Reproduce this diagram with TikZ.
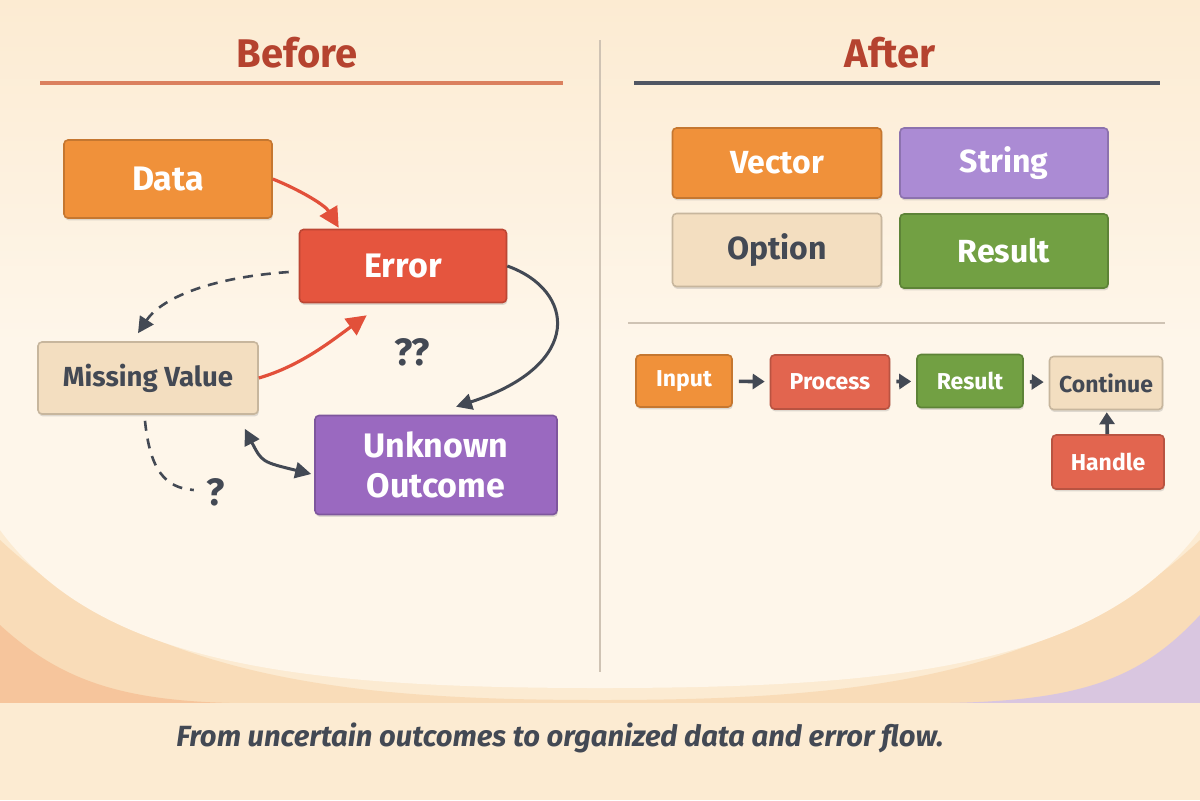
\documentclass[tikz,border=0pt]{standalone}
\usepackage{fontspec}
\setmainfont{Fira Sans}
\usetikzlibrary{arrows.meta,calc,shadows}

\definecolor{bgPeach}{HTML}{FCEBD2}
\definecolor{bgCream}{HTML}{FEF6EA}
\definecolor{bgBand}{HTML}{F9DCB8}
\definecolor{bgOrange}{HTML}{F6C59C}
\definecolor{bgLilac}{HTML}{D9C6E0}
\definecolor{cOrange}{HTML}{F0913A}
\definecolor{cRed}{HTML}{E5553E}
\definecolor{cFlowRed}{HTML}{E2654F}
\definecolor{cBeige}{HTML}{F3DEC0}
\definecolor{cPurple}{HTML}{9A69C0}
\definecolor{cLilac}{HTML}{AB8BD4}
\definecolor{cGreen}{HTML}{72A043}
\definecolor{cDark}{HTML}{434954}
\definecolor{cTitle}{HTML}{B5432F}
\definecolor{cLineRed}{HTML}{DB805E}
\definecolor{cLineDark}{HTML}{505663}
\definecolor{cDivider}{HTML}{CFC3B4}
\definecolor{cArrRed}{HTML}{E2503A}

\begin{document}
\begin{tikzpicture}[x=0.5pt, y=-0.5pt,
  box/.style={fill=#1, draw=#1!82!black, line width=0.8pt, rounded corners=2pt,
    text=white, drop shadow={shadow xshift=0.4pt, shadow yshift=-1.2pt, opacity=0.25}},
  title/.style={text=cTitle, font=\fontsize{20}{24}\selectfont\bfseries},
  bigtxt/.style={font=\fontsize{17}{20}\selectfont\bfseries},
  midtxt/.style={font=\fontsize{16}{19}\selectfont\bfseries},
  smalltxt/.style={font=\fontsize{11.5}{14}\selectfont\bfseries},
  quest/.style={text=cDark, font=\fontsize{19}{22}\selectfont\bfseries},
  redarr/.style={draw=cArrRed, line width=1.6pt, -{Triangle[length=10pt,width=10pt]}},
  darkarr/.style={draw=cDark, line width=1.5pt, -{Triangle[length=8pt,width=8pt]}},
  dashline/.style={draw=cDark, line width=1.3pt, dash pattern=on 5pt off 4pt},
  flowarr/.style={draw=cDark, line width=1.8pt, -{Triangle[length=6pt,width=7.5pt]},
    shorten <=3pt, shorten >=2.5pt}]

% background
\fill[bgPeach] (0,0) rectangle (1200,800);
\fill[bgBand] (0,540) .. controls (150,680) and (350,700) .. (600,700)
  .. controls (850,700) and (1050,680) .. (1200,540) -- (1200,703) -- (0,703) -- cycle;
\fill[bgOrange] (0,625) .. controls (60,680) and (120,700) .. (230,703) -- (0,703) -- cycle;
\fill[bgLilac] (1200,615) .. controls (1140,680) and (1080,700) .. (950,703) -- (1200,703) -- cycle;
\shade[top color=bgPeach, bottom color=bgCream, middle color=bgCream]
  (0,0) -- (1200,0) -- (1200,530) .. controls (1100,665) and (900,688) .. (600,688)
  .. controls (300,688) and (100,665) .. (0,530) -- cycle;
\fill[bgPeach] (0,703) rectangle (1200,800);

% titles and dividers
\node[title] (before) at (297,53) {Before};
\node[title] (after) at (890,53) {After};
\draw[cLineRed, line width=1.6pt] (40,83) -- (563,83);
\draw[cLineDark, line width=1.6pt] (634,83) -- (1160,83);
\draw[cDivider, line width=0.8pt] (600,40) -- (600,672);
\draw[cDivider, line width=0.6pt] (628,323) -- (1165,323);

% before
\node[box=cOrange, bigtxt, minimum width=104pt, minimum height=39pt] (data) at (168,179) {Data};
\node[box=cRed, bigtxt, minimum width=103.5pt, minimum height=36.5pt] (error) at (403,266) {Error};
\node[box=cBeige, text=cDark, font=\fontsize{13.8}{16}\selectfont\bfseries,
  minimum width=110pt, minimum height=36pt] (missing) at (148,378) {Missing Value};
\node[box=cPurple, bigtxt, align=center, minimum width=121pt, minimum height=49.5pt] (unknown)
  at (436,465) {Unknown\\Outcome};
\node[quest] (qq) at (412,352) {??};
\node[quest] (q) at (216,492) {?};

\draw[redarr] (data.east) .. controls (300,190) and (325,205) .. ($(error.north west)+(40,-1)$);
\draw[redarr] (missing.east) .. controls (300,366) and (330,342) .. ($(error.south west)+(68,12)$);
\draw[dashline, -{Triangle[length=8pt,width=8pt]}] ($(error.west)+(-10,6)$)
  .. controls (205,278) and (160,300) .. ($(missing.north)+(-10,-8)$);
\draw[darkarr] (error.east) .. controls (575,290) and (585,365) .. ($(unknown.north)+(20,-8)$);
\draw[darkarr, {Triangle[length=8pt,width=8pt]}-{Triangle[length=8pt,width=8pt]}]
  ($(missing.south east)+(-14,14)$) .. controls (262,462) .. ($(unknown.west)+(-3,9)$);
\draw[dashline] ($(missing.south)+(-3,6)$) .. controls (150,470) and (165,488) .. ($(q.west)+(-6,-2)$);

% after
\node[box=cOrange, midtxt, minimum width=104.5pt, minimum height=35pt] (vector) at (777,163) {Vector};
\node[box=cLilac, midtxt, minimum width=104pt, minimum height=35pt] (string) at (1004,163) {String};
\node[box=cBeige, midtxt, text=cDark, minimum width=104.5pt, minimum height=36.5pt] (option) at (777,250) {Option};
\node[box=cGreen, midtxt, minimum width=104pt, minimum height=37pt] (result) at (1004,251) {Result};

\node[box=cOrange, smalltxt, minimum width=48pt, minimum height=26pt] (input) at (684,381) {Input};
\node[box=cFlowRed, smalltxt, minimum width=59.5pt, minimum height=27pt] (process) at (830,382) {Process};
\node[box=cGreen, smalltxt, minimum width=53pt, minimum height=26.5pt] (res) at (970,381) {Result};
\node[box=cBeige, smalltxt, text=cDark, minimum width=56.5pt, minimum height=26.5pt] (cont) at (1106,383) {Continue};
\node[box=cFlowRed, smalltxt, minimum width=56pt, minimum height=27pt] (handle) at (1108,462) {Handle};

\draw[flowarr] (input) -- (process);
\draw[flowarr] (process) -- (res);
\draw[flowarr] (res) -- (cont);
\draw[flowarr, shorten <=0pt, shorten >=1pt] (handle) -- (cont);

% caption
\node[text=cDark, font=\fontsize{14.6}{17}\selectfont\bfseries\itshape] (caption) at (560,738)
  {From uncertain outcomes to organized data and error flow.};
\end{tikzpicture}
\end{document}
